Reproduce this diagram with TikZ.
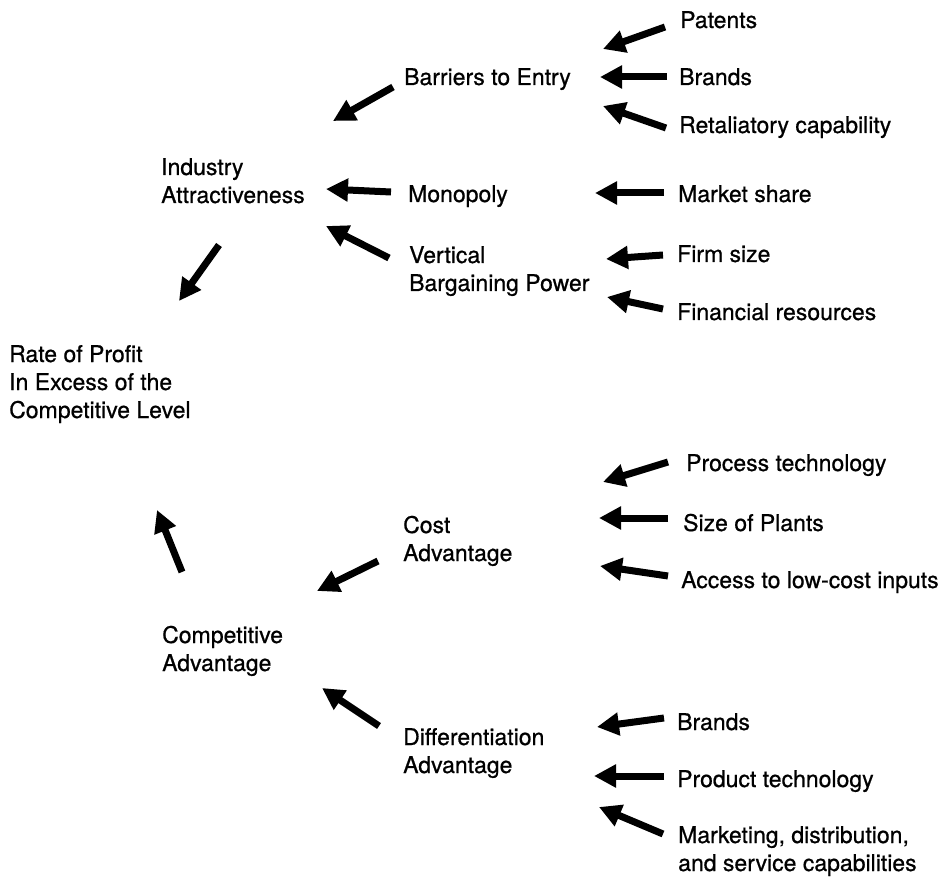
\documentclass[tikz,border=0pt]{standalone}
\usepackage{fontspec}
\setmainfont[FakeBold=0.7]{TeX Gyre Heros}
\usetikzlibrary{arrows.meta}
\begin{document}
\begin{tikzpicture}[x=1pt,y=-1pt,
  lbl/.style={anchor=base west,inner sep=0pt,align=left,font=\fontsize{23}{28}\selectfont},
  bigarrow/.style={line width=7pt,-{Triangle[length=22pt,width=22pt]}}]
\useasboundingbox (0,0) rectangle (943,877);
% labels (multi-line nodes: base anchor is the last line's baseline)
\node[lbl] (pat) at (680,28) {Patents};
\node[lbl] (br1) at (679,85) {Brands};
\node[lbl] (ret) at (679,133) {Retaliatory capability};
\node[lbl] (mks) at (678,202) {Market share};
\node[lbl] (frm) at (677,262) {Firm size};
\node[lbl] (fin) at (677,320) {Financial resources};
\node[lbl] (bar) at (404,85) {Barriers to Entry};
\node[lbl] (mon) at (408,202) {Monopoly};
\node[lbl] (ver) at (409,291) {Vertical\\Bargaining Power};
\node[lbl] (ind) at (161,203) {Industry\\Attractiveness};
\node[lbl] (rat) at (9,418) {Rate of Profit\\In Excess of the\\Competitive Level};
\node[lbl] (pro) at (686,471) {Process technology};
\node[lbl] (siz) at (683,531) {Size of Plants};
\node[lbl] (acc) at (681,588) {Access to low-cost inputs};
\node[lbl] (cst) at (403,561) {Cost\\Advantage};
\node[lbl] (cmp) at (162,671) {Competitive\\Advantage};
\node[lbl] (dif) at (403,773) {Differentiation\\Advantage};
\node[lbl] (br2) at (677,730) {Brands};
\node[lbl] (prt) at (677,787) {Product technology};
\node[lbl] (mkt) at (678,871) {Marketing, distribution,\\and service capabilities};
% arrow end points
\coordinate (patT) at (665,27);  \coordinate (patH) at (603,49);
\coordinate (br1T) at (667,77);  \coordinate (br1H) at (600,77);
\coordinate (retT) at (666,128); \coordinate (retH) at (603,106);
\coordinate (mksT) at (664,193); \coordinate (mksH) at (595,193);
\coordinate (frmT) at (663,255); \coordinate (frmH) at (606,259);
\coordinate (finT) at (663,309); \coordinate (finH) at (607,297);
\coordinate (barT) at (393,87);  \coordinate (barH) at (333,121);
\coordinate (monT) at (391,192); \coordinate (monH) at (326,189);
\coordinate (verT) at (389,258); \coordinate (verH) at (326,226);
\coordinate (indT) at (219,245); \coordinate (indH) at (179,301);
\coordinate (cmpT) at (182,572); \coordinate (cmpH) at (157,510);
\coordinate (proT) at (668,462); \coordinate (proH) at (603,482);
\coordinate (sizT) at (668,518); \coordinate (sizH) at (599,518);
\coordinate (accT) at (668,576); \coordinate (accH) at (600,566);
\coordinate (cstT) at (378,561); \coordinate (cstH) at (317,591);
\coordinate (difT) at (379,726); \coordinate (difH) at (322,688);
\coordinate (br2T) at (664,718); \coordinate (br2H) at (597,727);
\coordinate (prtT) at (664,776); \coordinate (prtH) at (594,776);
\coordinate (mktT) at (663,834); \coordinate (mktH) at (599,807);
% arrows
\foreach \a in {pat,br1,ret,mks,frm,fin,bar,mon,ver,ind,cmp,pro,siz,acc,cst,dif,br2,prt,mkt}
  \draw[bigarrow] (\a T) -- (\a H);
\end{tikzpicture}
\end{document}
